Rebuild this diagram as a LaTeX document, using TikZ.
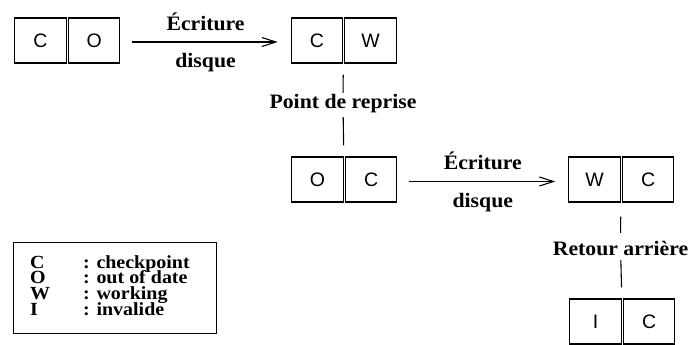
\documentclass[tikz,border=0pt]{standalone}
\usepackage{fontspec}
\setmainfont{Liberation Serif}
\newfontfamily\labfont[FakeStretch=1.06]{Liberation Serif}
\newfontfamily\legfont[FakeStretch=1.08]{Liberation Serif}
\newfontfamily\cellfont{Liberation Sans}
\usetikzlibrary{arrows.meta}
\tikzset{
 cell/.style={draw, line width=1.1pt, minimum width=51.5pt, minimum height=45pt, inner sep=0pt, font=\cellfont\fontsize{19.5}{22}\selectfont},
 arr/.style={line width=1.1pt, -{Straight Barb[length=14pt,width=9pt,line width=1.1pt]}},
 conn/.style={line width=1.1pt},
 lab/.style={inner sep=0pt, font=\labfont\bfseries\fontsize{20.5}{24}\selectfont},
 legtext/.style={inner sep=0pt, anchor=base west, font=\legfont\bfseries\fontsize{18.5}{18}\selectfont},
}
\newcommand\cellpair[4]{%
  \node[cell] (#1a) at (#2) {#3};
  \node[cell, anchor=west] (#1b) at ([xshift=1pt]#1a.east) {#4};
}
\begin{document}
\begin{tikzpicture}[x=1pt,y=-1pt]
\useasboundingbox (0,0) rectangle (688,345);
\cellpair{b1}{40.5,40.5}{C}{O}
\cellpair{b2}{317,40.5}{C}{W}
\cellpair{b3}{317.5,179.5}{O}{C}
\cellpair{b4}{594.5,179.5}{W}{C}
\cellpair{b5}{595.5,321.5}{I}{C}
% horizontal arrows
\draw[arr, shorten <=12pt, shorten >=13pt] ([yshift=-1.5pt]b1b.east) --
  node[lab, above=11pt] (e1) {Écriture}
  node[lab, below=11pt] (d1) {disque} ([yshift=-1.5pt]b2a.west);
\draw[arr, shorten <=11.5pt, shorten >=13pt] ([yshift=-2pt]b3b.east) --
  node[lab, above=11pt] (e2) {Écriture}
  node[lab, below=11pt] (d2) {disque} ([yshift=-2pt]b4a.west);
% vertical connectors
\node[lab, anchor=base, text height=15pt, text depth=9pt] (pr) at (343,108) {Point de reprise};
\draw[conn, shorten <=11pt] (b2a.south east) -- (pr);
\draw[conn, shorten >=11pt] (pr) -- (b3a.north east);
\node[lab, anchor=base, text height=22pt, text depth=5pt] (ra) at (620.5,255) {Retour arrière};
\draw[conn, shorten <=14pt] (b4a.south east) -- (ra);
\draw[conn, shorten >=11pt] (ra) -- (b5a.north east);
% legend
\node[draw, line width=1.1pt, minimum width=203pt, minimum height=91pt, inner sep=0pt, anchor=north west] (leg) at (13,242) {};
\node[legtext] (lc) at (30,268) {C};
\node[legtext] (lo) at (30,283.7) {O};
\node[legtext] (lw) at (30,299.4) {W};
\node[legtext] (li) at (30,315) {I};
\node[legtext] (dc) at (83,268) {: checkpoint};
\node[legtext] (do) at (83,283.7) {: out of date};
\node[legtext] (dw) at (83,299.4) {: working};
\node[legtext] (di) at (83,315) {: invalide};
\end{tikzpicture}
\end{document}
